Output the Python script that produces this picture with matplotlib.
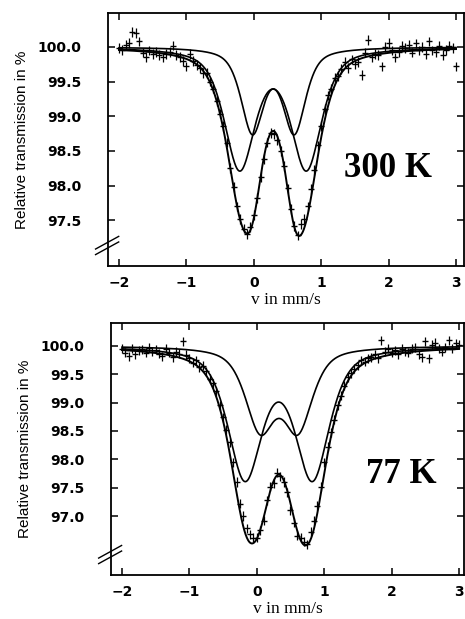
import numpy as np
import matplotlib
matplotlib.use("Agg")
import matplotlib.pyplot as plt

# velocity channels (mm/s)
velocity = [-2.00, -1.95, -1.90, -1.85, -1.80, -1.75, -1.70, -1.65, -1.60, -1.55,
            -1.50, -1.45, -1.40, -1.35, -1.30, -1.25, -1.20, -1.15, -1.10, -1.05,
            -1.00, -0.95, -0.90, -0.85, -0.80, -0.75, -0.70, -0.65, -0.60, -0.55,
            -0.50, -0.45, -0.40, -0.35, -0.30, -0.25, -0.20, -0.15, -0.10, -0.05,
            0.00, 0.05, 0.10, 0.15, 0.20, 0.25, 0.30, 0.35, 0.40, 0.45,
            0.50, 0.55, 0.60, 0.65, 0.70, 0.75, 0.80, 0.85, 0.90, 0.95,
            1.00, 1.05, 1.10, 1.15, 1.20, 1.25, 1.30, 1.35, 1.40, 1.45,
            1.50, 1.55, 1.60, 1.65, 1.70, 1.75, 1.80, 1.85, 1.90, 1.95,
            2.00, 2.05, 2.10, 2.15, 2.20, 2.25, 2.30, 2.35, 2.40, 2.45,
            2.50, 2.55, 2.60, 2.65, 2.70, 2.75, 2.80, 2.85, 2.90, 2.95,
            3.00]

# measured relative transmission (%)
trans_300K = [99.98, 99.96, 100.03, 100.06, 100.22, 100.20, 100.08, 99.92, 99.86, 99.95,
              99.90, 99.93, 99.88, 99.85, 99.90, 99.93, 100.02, 99.88, 99.86, 99.80,
              99.72, 99.90, 99.80, 99.74, 99.70, 99.62, 99.62, 99.50, 99.40, 99.22,
              99.04, 98.86, 98.62, 98.25, 97.98, 97.70, 97.52, 97.38, 97.30, 97.40,
              97.58, 97.82, 98.12, 98.38, 98.62, 98.76, 98.74, 98.66, 98.50, 98.28,
              97.96, 97.66, 97.42, 97.28, 97.45, 97.52, 97.70, 97.95, 98.22, 98.58,
              98.86, 99.10, 99.30, 99.40, 99.55, 99.58, 99.68, 99.78, 99.70, 99.82,
              99.75, 99.78, 99.60, 99.92, 100.10, 99.85, 99.90, 99.88, 99.72, 100.00,
              100.06, 99.95, 99.85, 99.93, 100.02, 99.98, 100.03, 99.92, 100.05, 99.95,
              100.00, 99.90, 100.08, 99.95, 99.93, 100.02, 99.88, 99.96, 100.02, 99.98,
              99.72]

trans_77K = [99.95, 99.88, 99.82, 99.95, 99.85, 99.92, 99.94, 99.88, 99.97, 99.90,
             99.93, 99.86, 99.82, 99.95, 99.88, 99.80, 99.90, 99.86, 100.08, 99.84,
             99.78, 99.70, 99.75, 99.62, 99.65, 99.55, 99.42, 99.34, 99.20, 98.95,
             98.74, 98.52, 98.30, 97.95, 97.60, 97.22, 97.00, 96.78, 96.68, 96.62,
             96.62, 96.75, 96.92, 97.28, 97.52, 97.58, 97.76, 97.70, 97.60, 97.42,
             97.10, 96.88, 96.65, 96.62, 96.55, 96.50, 96.72, 96.92, 97.18, 97.52,
             97.95, 98.22, 98.48, 98.70, 98.95, 99.12, 99.30, 99.45, 99.52, 99.60,
             99.66, 99.75, 99.72, 99.78, 99.80, 99.85, 99.78, 100.10, 99.90, 99.95,
             99.88, 99.92, 99.85, 99.95, 99.90, 99.88, 99.95, 99.98, 99.85, 99.80,
             100.08, 99.78, 100.02, 100.06, 99.95, 99.90, 99.98, 100.10, 99.95, 100.05,
             100.02]

# fitted doublets: line positions (mm/s), half width (mm/s), depth (%)
pos_300K_1 = [-0.02, 0.60]
pos_300K_2 = [-0.21, 0.78]
hw_300K = [0.20, 0.27]
depth_300K = [1.20, 1.72]

pos_77K_1 = [0.05, 0.61]
pos_77K_2 = [-0.175, 0.825]
hw_77K = [0.26, 0.30]
depth_77K = [1.40, 2.28]


def doublet(v, positions, hw, depth, eta=0.6):
    out = np.zeros_like(v)
    for c in positions:
        x = (v - c) / hw
        out += depth * (eta / (1 + x ** 2) + (1 - eta) * np.exp(-np.log(2) * x ** 2))
    return out


def panel(ax, data, pos1, pos2, hw, depth, ylim, yticks, label, label_xy, yerr, xlim):
    vv = np.linspace(-2.0, 3.0, 800)
    d1 = doublet(vv, pos1, hw[0], depth[0])
    d2 = doublet(vv, pos2, hw[1], depth[1])
    ax.plot(vv, 100 - d1, color="black", lw=1.2)
    ax.plot(vv, 100 - d2, color="black", lw=1.2)
    ax.plot(vv, 100 - d1 - d2, color="black", lw=1.4)
    ax.errorbar(velocity, data, yerr=yerr, fmt="_", color="black", ms=4.5,
                mew=1.0, elinewidth=0.9, capsize=0)

    ax.set_xlim(*xlim)
    ax.set_ylim(*ylim)
    ax.set_xticks([-2, -1, 0, 1, 2, 3])
    ax.set_yticks(yticks)
    ax.set_yticklabels([f"{t:.1f}" for t in yticks])
    ax.tick_params(direction="in", top=True, right=True, length=5, width=1.1,
                   labelsize=10)
    ax.tick_params(axis="x", pad=7)
    ax.tick_params(axis="y", pad=19)
    for t in ax.get_xticklabels() + ax.get_yticklabels():
        t.set_fontweight("bold")
    for s in ax.spines.values():
        s.set_linewidth(1.3)
    ax.set_xlabel("v in mm/s", family="Liberation Serif", fontsize=12.5, labelpad=2)
    ax.set_ylabel("Relative transmission in %", family="Liberation Sans",
                  fontsize=11, labelpad=6)
    ax.text(label_xy[0], label_xy[1], label, family="Liberation Serif",
            weight="bold", fontsize=25, ha="center", va="center")

    # axis break marks on the left spine
    for dy in (0.0, 0.022):
        ax.plot([-0.035, 0.03], [0.045 + dy, 0.095 + dy], transform=ax.transAxes,
                color="black", lw=1.0, clip_on=False)


fig = plt.figure(figsize=(4.65, 6.19), dpi=100)
ax1 = fig.add_axes([0.2323, 0.5703, 0.7656, 0.4087])
ax2 = fig.add_axes([0.2387, 0.0711, 0.759, 0.4076])

panel(ax1, trans_300K, pos_300K_1, pos_300K_2, hw_300K, depth_300K,
      (96.84, 100.49), [97.5, 98.0, 98.5, 99.0, 99.5, 100.0], "300 K",
      (1.99, 98.25), 0.07, (-2.163, 3.119))
panel(ax2, trans_77K, pos_77K_1, pos_77K_2, hw_77K, depth_77K,
      (95.96, 100.41), [97.0, 97.5, 98.0, 98.5, 99.0, 99.5, 100.0], "77 K",
      (2.15, 97.74), 0.08, (-2.163, 3.074))

fig.savefig("out.png", dpi=100)
